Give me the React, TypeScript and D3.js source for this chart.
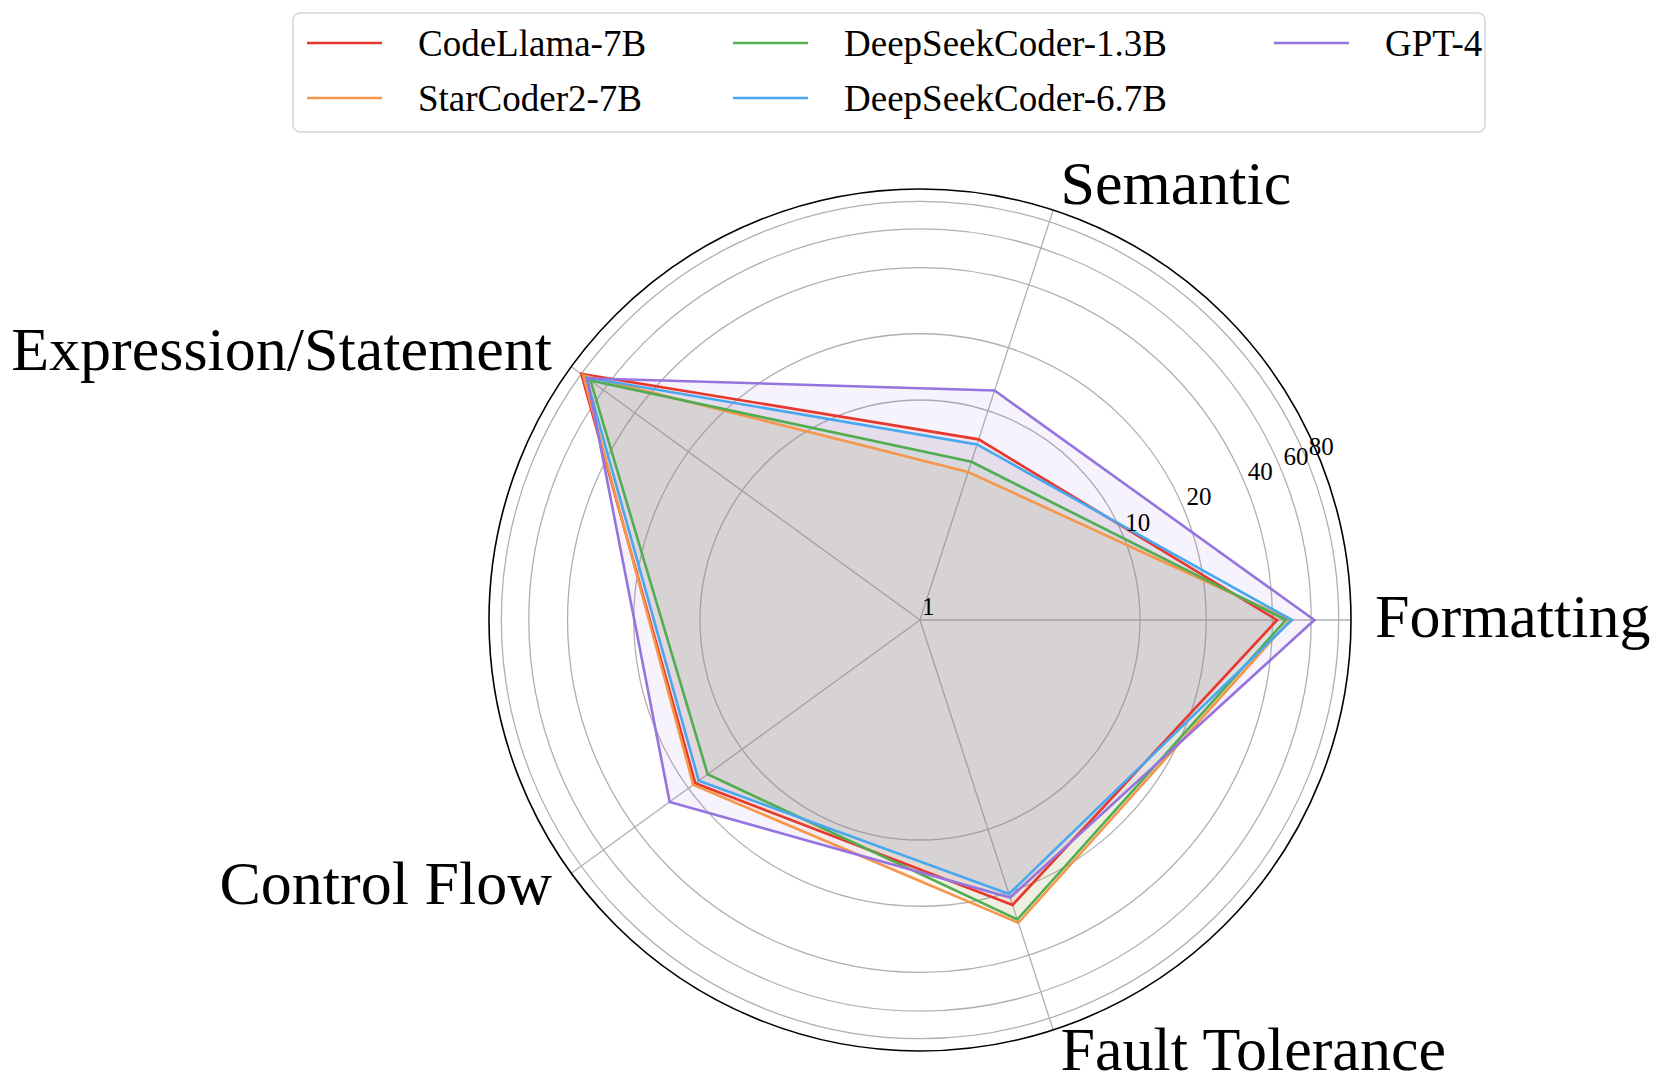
import React from "react";
import * as d3 from "d3";

// axes of the radar, counter-clockwise from the right
const categories = [
    "Formatting",
    "Semantic",
    "Expression/Statement",
    "Control Flow",
    "Fault Tolerance",
];

const seriesNames = [
    "CodeLlama-7B",
    "StarCoder2-7B",
    "DeepSeekCoder-1.3B",
    "DeepSeekCoder-6.7B",
    "GPT-4",
];

const codeLlama7B = [42, 7.3, 80, 18.3, 23];
const starCoder27B = [48, 5.1, 78, 18.8, 28];
const deepSeekCoder13B = [46, 5.7, 71, 15.6, 27];
const deepSeekCoder67B = [49, 6.9, 75, 17.5, 20.4];
const gpt4 = [62, 12.5, 74, 25.5, 21.2];

const radialTicks = [1, 10, 20, 40, 60, 80];
const radialMax = 91;

const seriesValues = [codeLlama7B, starCoder27B, deepSeekCoder13B, deepSeekCoder67B, gpt4];
const colors = ["#e8372c", "#f5964b", "#52ac52", "#47a8f0", "#9674de"];

const W = 1660;
const H = 1091;
const cx = 920;
const cy = 620;
const R = 431;

const App: React.FC = () => {
    const rScale = d3.scaleLog().domain([1, radialMax]).range([0, R]);
    const angleScale = d3
        .scaleLinear()
        .domain([0, categories.length])
        .range([0, 2 * Math.PI]);

    // lineRadial measures angles clockwise from 12 o'clock
    const radar = d3
        .lineRadial<number>()
        .angle((_, i) => Math.PI / 2 - angleScale(i))
        .radius(d => rScale(d))
        .curve(d3.curveLinearClosed);

    const font = "'Liberation Serif', 'Times New Roman', serif";
    const labelAngle = (22.5 * Math.PI) / 180;

    // legend is laid out column first, 3 columns
    const legendCols = [418, 844, 1385];
    const legendRows = [43, 98];

    return (
        <svg
            width={W}
            height={H}
            style={{ position: "absolute", left: 0, top: 0, background: "#fff" }}
            fontFamily={font}
        >
            <g transform={`translate(${cx},${cy})`}>
                {radialTicks
                    .filter(t => t > 1)
                    .map(t => (
                        <circle
                            key={t}
                            r={rScale(t)}
                            fill="none"
                            stroke="#b0b0b0"
                            strokeWidth={1.3}
                        />
                    ))}
                {categories.map((c, i) => {
                    const a = angleScale(i);
                    return (
                        <line
                            key={c}
                            x1={0}
                            y1={0}
                            x2={R * Math.cos(a)}
                            y2={-R * Math.sin(a)}
                            stroke="#b0b0b0"
                            strokeWidth={1.3}
                        />
                    );
                })}
                <circle r={R} fill="none" stroke="#000" strokeWidth={1.6} />

                {seriesValues.map((vals, i) => (
                    <path
                        key={"f" + i}
                        d={radar(vals) || ""}
                        fill={colors[i]}
                        fillOpacity={0.085}
                        stroke="none"
                    />
                ))}
                {seriesValues.map((vals, i) => (
                    <path
                        key={"l" + i}
                        d={radar(vals) || ""}
                        fill="none"
                        stroke={colors[i]}
                        strokeWidth={2.6}
                        strokeLinejoin="miter"
                    />
                ))}

                {radialTicks.map(t => {
                    const r = rScale(t);
                    return (
                        <text
                            key={"t" + t}
                            x={r * Math.cos(labelAngle) + 2}
                            y={-r * Math.sin(labelAngle) - 5}
                            fontSize={25}
                            fill="#000"
                        >
                            {t}
                        </text>
                    );
                })}

                {categories.map((c, i) => {
                    const a = angleScale(i);
                    const rr = R + 24;
                    const cos = Math.cos(a);
                    const anchor = cos > 0.01 ? "start" : cos < -0.01 ? "end" : "middle";
                    return (
                        <text
                            key={"c" + c}
                            x={rr * cos}
                            y={-rr * Math.sin(a) - 4}
                            fontSize={62}
                            textAnchor={anchor}
                            dominantBaseline="central"
                            fill="#000"
                        >
                            {c}
                        </text>
                    );
                })}
            </g>

            <rect
                x={293}
                y={13}
                width={1192}
                height={119}
                rx={7}
                fill="#fff"
                fillOpacity={0.8}
                stroke="#d6d6d6"
                strokeWidth={1.5}
            />
            {seriesNames.map((name, i) => {
                const col = Math.floor(i / 2);
                const row = i % 2;
                const tx = legendCols[col];
                const ty = legendRows[row];
                return (
                    <g key={name}>
                        <line
                            x1={tx - 111}
                            x2={tx - 36}
                            y1={ty}
                            y2={ty}
                            stroke={colors[i]}
                            strokeWidth={2.6}
                        />
                        <text
                            x={tx}
                            y={ty}
                            fontSize={37}
                            dominantBaseline="central"
                            fill="#000"
                        >
                            {name}
                        </text>
                    </g>
                );
            })}
        </svg>
    );
};

export default App;
